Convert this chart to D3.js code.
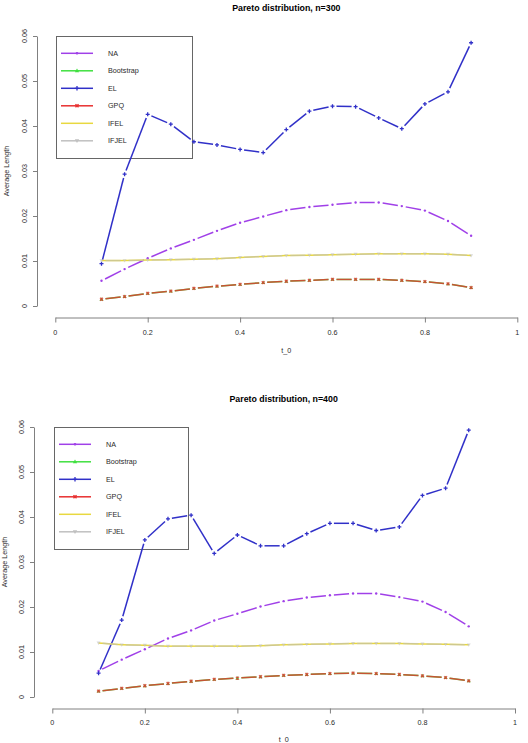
<!DOCTYPE html>
<html>
<head>
<meta charset="utf-8">
<script src="https://cdn.jsdelivr.net/npm/d3@7"></script>
<style>
  html, body { margin: 0; padding: 0; background: #fff; }
  svg { display: block; font-family: "Liberation Sans", Arial, sans-serif; }
</style>
</head>
<body>
<svg id="chart" width="528" height="743"></svg>
<script>
// ---------------- DATA ----------------
const t0 = [0.1, 0.15, 0.2, 0.25, 0.3, 0.35, 0.4, 0.45, 0.5, 0.55, 0.6, 0.65, 0.7, 0.75, 0.8, 0.85, 0.9];
const seriesNames = ["NA", "Bootstrap", "EL", "GPQ", "IFEL", "IFJEL"];
const xTicks = [0, 0.2, 0.4, 0.6, 0.8, 1];
const xTickLabels = ["0", "0.2", "0.4", "0.6", "0.8", "1"];
const yTicks = [0, 0.01, 0.02, 0.03, 0.04, 0.05, 0.06];
const yTickLabels = ["0", "0.01", "0.02", "0.03", "0.04", "0.05", "0.06"];
const titles = ["Pareto distribution, n=300", "Pareto distribution, n=400"];

// n = 300
const na300   = [0.0056, 0.0082, 0.0106, 0.0128, 0.0147, 0.0167, 0.0185, 0.0199, 0.0213, 0.0220, 0.0225, 0.0230, 0.0230, 0.0222, 0.0212, 0.0189, 0.0156];
const el300   = [0.0094, 0.0293, 0.0426, 0.0404, 0.0365, 0.0358, 0.0348, 0.0341, 0.0392, 0.0433, 0.0444, 0.0443, 0.0418, 0.0394, 0.0449, 0.0476, 0.0585];
const gpq300  = [0.0015, 0.0021, 0.0028, 0.0033, 0.0039, 0.0044, 0.0048, 0.0052, 0.0055, 0.0057, 0.0059, 0.0059, 0.0059, 0.0057, 0.0054, 0.0049, 0.0041];
const boot300 = [0.0015, 0.0021, 0.0028, 0.0033, 0.0039, 0.0044, 0.0048, 0.0052, 0.0055, 0.0057, 0.0059, 0.0059, 0.0059, 0.0057, 0.0054, 0.0049, 0.0041];
const ifel300 = [0.0101, 0.0101, 0.0102, 0.0103, 0.0104, 0.0105, 0.0108, 0.0110, 0.0112, 0.0113, 0.0114, 0.0115, 0.0116, 0.0116, 0.0116, 0.0115, 0.0112];
const ifjel300= [0.0101, 0.0101, 0.0102, 0.0103, 0.0104, 0.0105, 0.0108, 0.0110, 0.0112, 0.0113, 0.0114, 0.0115, 0.0116, 0.0116, 0.0116, 0.0115, 0.0112];

// n = 400
const na400   = [0.0058, 0.0083, 0.0106, 0.0130, 0.0148, 0.0170, 0.0185, 0.0201, 0.0213, 0.0221, 0.0226, 0.0230, 0.0230, 0.0222, 0.0212, 0.0189, 0.0157];
const el400   = [0.0053, 0.0171, 0.0349, 0.0396, 0.0404, 0.0319, 0.0360, 0.0336, 0.0336, 0.0363, 0.0386, 0.0386, 0.0370, 0.0378, 0.0448, 0.0464, 0.0593];
const gpq400  = [0.0013, 0.0019, 0.0025, 0.0030, 0.0035, 0.0039, 0.0042, 0.0045, 0.0048, 0.0050, 0.0052, 0.0053, 0.0052, 0.0050, 0.0047, 0.0043, 0.0036];
const boot400 = [0.0013, 0.0019, 0.0025, 0.0030, 0.0035, 0.0039, 0.0042, 0.0045, 0.0048, 0.0050, 0.0052, 0.0053, 0.0052, 0.0050, 0.0047, 0.0043, 0.0036];
const ifel400 = [0.0120, 0.0116, 0.0115, 0.0113, 0.0113, 0.0113, 0.0113, 0.0114, 0.0116, 0.0117, 0.0118, 0.0119, 0.0119, 0.0119, 0.0118, 0.0117, 0.0116];
const ifjel400= [0.0120, 0.0116, 0.0115, 0.0113, 0.0113, 0.0113, 0.0113, 0.0114, 0.0116, 0.0117, 0.0118, 0.0119, 0.0119, 0.0119, 0.0118, 0.0117, 0.0116];

// ---------------- STYLE ----------------
const styles = {
  "NA":        { color: "#a040e8", marker: "circle",   opacity: 1 },
  "Bootstrap": { color: "#40e040", marker: "triangle", opacity: 1 },
  "EL":        { color: "#3030c8", marker: "plus",     opacity: 1 },
  "GPQ":       { color: "#e83030", marker: "cross",    opacity: 0.8 },
  "IFEL":      { color: "#e8d840", marker: "none",     opacity: 1 },
  "IFJEL":     { color: "#c0c0c0", marker: "tridown",  opacity: 0.6 }
};

const panels = [
  { title: titles[0], data: { "NA": na300, "Bootstrap": boot300, "EL": el300, "GPQ": gpq300, "IFEL": ifel300, "IFJEL": ifjel300 },
    x0: 55.3, x1: 517.3, yTop: 36, yBot: 306, yAxisX: 37, xAxisY: 317.5, titleY: 11, xLabY: 352.5, yLabX: 9,
    tickLabX: 27, xTickLabY: 334.5, legend: { x: 56, y: 36, w: 136, h: 122 } },
  { title: titles[1], data: { "NA": na400, "Bootstrap": boot400, "EL": el400, "GPQ": gpq400, "IFEL": ifel400, "IFJEL": ifjel400 },
    x0: 52.3, x1: 515, yTop: 427, yBot: 697, yAxisX: 34, xAxisY: 708.5, titleY: 401.5, xLabY: 741.5, yLabX: 7,
    tickLabX: 24, xTickLabY: 725, legend: { x: 54, y: 427, w: 134, h: 122 } }
];

const svg = d3.select("#chart");
const axisColor = "#808080";
const textColor = "#2a2a2a";
const fontSize = 7.2;

function drawMarker(g, type, cx, cy, color, size) {
  const s = size;
  if (type === "circle") {
    g.append("circle").attr("cx", cx).attr("cy", cy).attr("r", s * 0.6).attr("fill", color);
  } else if (type === "triangle") {
    g.append("path").attr("d", `M${cx},${cy - s}L${cx + s},${cy + s * 0.7}L${cx - s},${cy + s * 0.7}Z`).attr("fill", color);
  } else if (type === "tridown") {
    g.append("path").attr("d", `M${cx},${cy + s}L${cx + s},${cy - s * 0.7}L${cx - s},${cy - s * 0.7}Z`).attr("fill", color);
  } else if (type === "plus") {
    g.append("path").attr("d", `M${cx - s},${cy}H${cx + s}M${cx},${cy - s}V${cy + s}`).attr("stroke", color).attr("stroke-width", 1.3);
  } else if (type === "cross") {
    const d = s * 0.7;
    g.append("path").attr("d", `M${cx - d},${cy - d}L${cx + d},${cy + d}M${cx - d},${cy + d}L${cx + d},${cy - d}`).attr("stroke", color).attr("stroke-width", 1.4);
  }
}

panels.forEach(p => {
  const x = d3.scaleLinear().domain([0, 1]).range([p.x0, p.x1]);
  const y = d3.scaleLinear().domain([0, 0.06]).range([p.yBot, p.yTop]);
  const root = svg.append("g");

  // title
  root.append("text").attr("x", (p.x0 + p.x1) / 2).attr("y", p.titleY)
    .attr("text-anchor", "middle").attr("font-weight", "bold").attr("font-size", 8.8).attr("fill", "#000")
    .text(p.title);

  // x axis
  const xa = root.append("g").attr("transform", `translate(0,${p.xAxisY})`)
    .call(d3.axisBottom(x).tickValues(xTicks).tickFormat((d, i) => xTickLabels[i]).tickSizeOuter(0).tickSizeInner(5));
  xa.select(".domain").attr("stroke", axisColor);
  xa.selectAll(".tick line").attr("stroke", axisColor);
  xa.selectAll(".tick text").remove();
  xTicks.forEach((v, i) => {
    root.append("text").attr("x", x(v)).attr("y", p.xTickLabY).attr("text-anchor", "middle")
      .attr("font-size", fontSize).attr("fill", textColor).text(xTickLabels[i]);
  });

  // y axis
  const ya = root.append("g").attr("transform", `translate(${p.yAxisX},0)`)
    .call(d3.axisLeft(y).tickValues(yTicks).tickFormat((d, i) => yTickLabels[i]).tickSizeOuter(0).tickSizeInner(4));
  ya.select(".domain").attr("stroke", axisColor);
  ya.selectAll(".tick line").attr("stroke", axisColor);
  ya.selectAll(".tick text").remove();
  yTicks.forEach((v, i) => {
    root.append("text").attr("transform", `translate(${p.tickLabX},${y(v)}) rotate(-90)`)
      .attr("text-anchor", "middle").attr("font-size", fontSize).attr("fill", textColor).text(yTickLabels[i]);
  });

  // axis titles
  root.append("text").attr("x", (p.x0 + p.x1) / 2).attr("y", p.xLabY).attr("text-anchor", "middle")
    .attr("font-size", fontSize).attr("fill", textColor).text("t_0");
  root.append("text").attr("transform", `translate(${p.yLabX},${(p.yTop + p.yBot) / 2}) rotate(-90)`)
    .attr("text-anchor", "middle").attr("font-size", fontSize).attr("fill", textColor).text("Average Length");

  // legend (transparent box, drawn beneath the series)
  const L = p.legend;
  const lg = root.append("g");
  lg.append("rect").attr("x", L.x + 0.5).attr("y", L.y + 0.5).attr("width", L.w).attr("height", L.h)
    .attr("fill", "none").attr("stroke", "#666").attr("stroke-width", 1);
  seriesNames.forEach((name, i) => {
    const st = styles[name];
    const ly = L.y + 17.3 + i * 17.5;
    lg.append("line").attr("x1", L.x + 5).attr("x2", L.x + 37).attr("y1", ly).attr("y2", ly)
      .attr("stroke", st.color).attr("stroke-width", 1.5);
    drawMarker(lg, st.marker, L.x + 21, ly, st.color, 2.2);
    lg.append("text").attr("x", L.x + 52).attr("y", ly + 2.6).attr("font-size", fontSize).attr("fill", textColor).text(name);
  });

  // series: type "b" (lines with gaps at points)
  const gap = 4;
  seriesNames.forEach(name => {
    const st = styles[name];
    const vals = p.data[name];
    const g = root.append("g").attr("opacity", st.opacity);
    const pts = t0.map((t, i) => [x(t), y(vals[i])]);
    for (let i = 0; i < pts.length - 1; i++) {
      const [ax, ay] = pts[i], [bx, by] = pts[i + 1];
      const len = Math.hypot(bx - ax, by - ay);
      if (st.marker === "none") {
        g.append("line").attr("x1", ax).attr("y1", ay).attr("x2", bx).attr("y2", by)
          .attr("stroke", st.color).attr("stroke-width", 1.5);
        continue;
      }
      if (len <= 2 * gap) continue;
      const ux = (bx - ax) / len, uy = (by - ay) / len;
      g.append("line").attr("x1", ax + ux * gap).attr("y1", ay + uy * gap)
        .attr("x2", bx - ux * gap).attr("y2", by - uy * gap)
        .attr("stroke", st.color).attr("stroke-width", 1.5);
    }
    pts.forEach(([px, py]) => drawMarker(g, st.marker, px, py, st.color, 2.0));
  });
});
</script>
</body>
</html>
